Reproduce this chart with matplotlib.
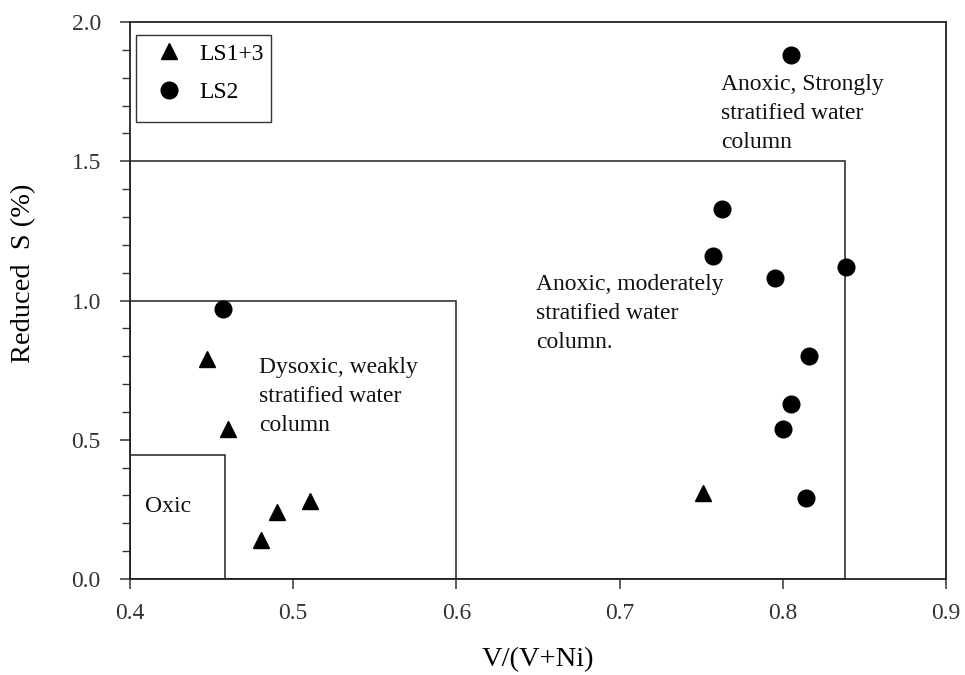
import matplotlib.pyplot as plt
from matplotlib.patches import Rectangle
from matplotlib.ticker import MultipleLocator

plt.rcParams.update({
    "font.family": ["Liberation Serif", "DejaVu Serif"],
    "font.size": 17,
})

# LS1+3 samples (triangles)
ls13_x = [0.447, 0.460, 0.480, 0.490, 0.510, 0.751]
ls13_y = [0.79, 0.54, 0.14, 0.24, 0.28, 0.31]

# LS2 samples (circles)
ls2_x = [0.457, 0.805, 0.763, 0.757, 0.795, 0.839, 0.816, 0.805, 0.800, 0.814]
ls2_y = [0.97, 1.88, 1.33, 1.16, 1.08, 1.12, 0.80, 0.63, 0.54, 0.29]

# field boundaries: (upper V/(V+Ni), upper reduced S)
fields = [(0.458, 0.445), (0.60, 1.0), (0.838, 1.5)]

fig = plt.figure(figsize=(9.65, 6.75), dpi=100)
ax = fig.add_axes([0.1347, 0.1422, 0.8456, 0.8252])

for xr, yr in fields:
    ax.add_patch(Rectangle((0.4, 0), xr - 0.4, yr, fill=False,
                           edgecolor="#222", linewidth=1.1, zorder=1))

ax.plot(ls13_x, ls13_y, "^", color="black", markersize=12,
        linestyle="none", label="LS1+3", zorder=3)
ax.plot(ls2_x, ls2_y, "o", color="black", markersize=12,
        linestyle="none", label="LS2", zorder=3)

tkw = dict(fontsize=17, va="top", ha="left", linespacing=1.5, color="#111")
ax.text(0.762, 1.813, "Anoxic, Strongly\nstratified water\ncolumn", **tkw)
ax.text(0.649, 1.094, "Anoxic, moderately\nstratified water\ncolumn.", **tkw)
ax.text(0.479, 0.797, "Dysoxic, weakly\nstratified water\ncolumn", **tkw)
ax.text(0.409, 0.262, "Oxic", fontsize=17, va="center", ha="left", color="#111")

ax.set_xlim(0.4, 0.9)
ax.set_ylim(0, 2.0)
ax.xaxis.set_major_locator(MultipleLocator(0.1))
ax.yaxis.set_major_locator(MultipleLocator(0.5))
ax.yaxis.set_minor_locator(MultipleLocator(0.1))
ax.xaxis.set_major_formatter(plt.FormatStrFormatter("%.1f"))
ax.yaxis.set_major_formatter(plt.FormatStrFormatter("%.1f"))
ax.tick_params(axis="both", which="major", direction="out", length=7,
               width=1.1, labelsize=17, colors="#333", pad=10)
ax.tick_params(axis="y", which="major", pad=14)
ax.tick_params(axis="y", which="minor", direction="out", length=6, width=1.0,
               colors="#333")
for s in ax.spines.values():
    s.set_linewidth(1.3)
    s.set_color("#222")

ax.set_xlabel("V/(V+Ni)", fontsize=20.5)
ax.set_ylabel("Reduced  S (%)", fontsize=20.5)
ax.xaxis.set_label_coords(0.5, -0.122)
ax.yaxis.set_label_coords(-0.115, 0.549)

# legend drawn without its own frame; box added separately (it is taller
# than the entries in the original)
ax.legend(loc="upper left", bbox_to_anchor=(0.0333, 0.962), frameon=False,
          fontsize=17, borderpad=0, labelspacing=0.72, handlelength=1.0,
          handletextpad=0.77, borderaxespad=0)
ax.add_patch(Rectangle((0.007, 0.8205), 0.1658, 0.1562, transform=ax.transAxes,
                       fill=False, edgecolor="#333", linewidth=1.0, zorder=4))

fig.savefig("out.png", dpi=100)
